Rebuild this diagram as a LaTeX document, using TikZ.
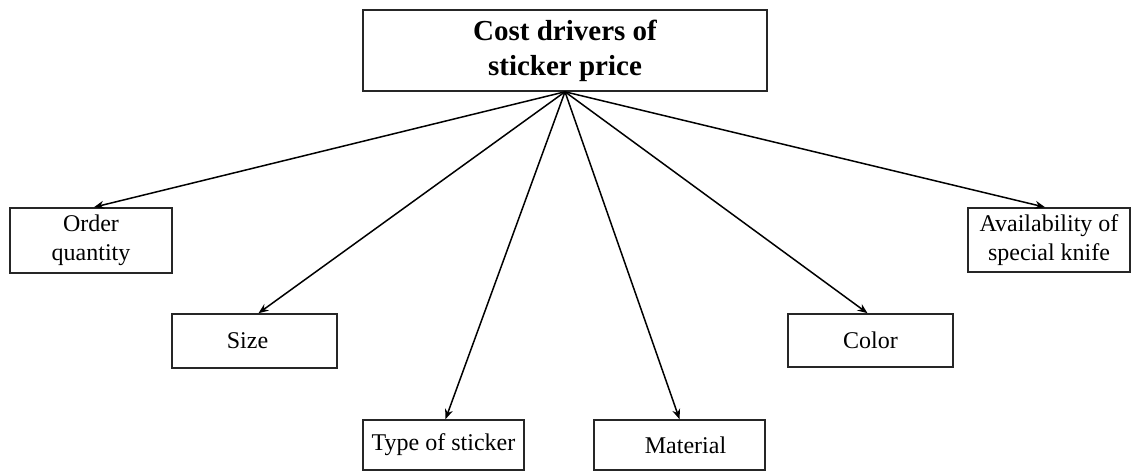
\documentclass[tikz,border=0pt]{standalone}
\usepackage{fontspec}
\setmainfont{Liberation Serif}
\usetikzlibrary{arrows.meta}
\begin{document}
\begin{tikzpicture}[x=1pt,y=-1pt,
  driverbox/.style={draw=black!85, line width=1.6pt, inner sep=0pt, align=center,
    font=\fontsize{24}{29}\selectfont},
  titlebox/.style={draw=black!85, line width=1.6pt, inner sep=0pt, align=center,
    font=\fontsize{29}{35}\selectfont\bfseries},
  link/.style={line width=1.5pt, -{Stealth[length=10pt,width=8pt]}}]
\useasboundingbox (0,0) rectangle (1134,473);

% root node
\node[titlebox, minimum width=404pt, minimum height=81pt] (top) at (565,50.5)
  {Cost drivers of\\sticker price};

% cost drivers
\node[driverbox, minimum width=162pt, minimum height=65pt] (order) at (91,240.5)
  {Order\\quantity};
\node[driverbox, minimum width=165pt, minimum height=54pt] (size) at (254.5,341)
  {\hspace*{-14pt}Size};
\node[driverbox, minimum width=161pt, minimum height=50pt] (type) at (443.5,445)
  {Type of sticker};
\node[driverbox, minimum width=171pt, minimum height=50pt] (material) at (679.5,445)
  {\hspace*{12pt}Material};
\node[driverbox, minimum width=165pt, minimum height=53pt] (color) at (870.5,340.5)
  {Color};
\node[driverbox, minimum width=162pt, minimum height=64pt] (avail) at (1049,240)
  {Availability of\\special knife};

% connectors from the root
\draw[link] (top.south) -- ([xshift=3pt]order.north);
\draw[link] (top.south) -- ([xshift=4pt]size.north);
\draw[link] (top.south) -- ([xshift=2pt]type.north);
\draw[link] (top.south) -- (material.north);
\draw[link] (top.south) -- ([xshift=-3pt]color.north);
\draw[link] (top.south) -- ([xshift=-4pt]avail.north);
\end{tikzpicture}
\end{document}
